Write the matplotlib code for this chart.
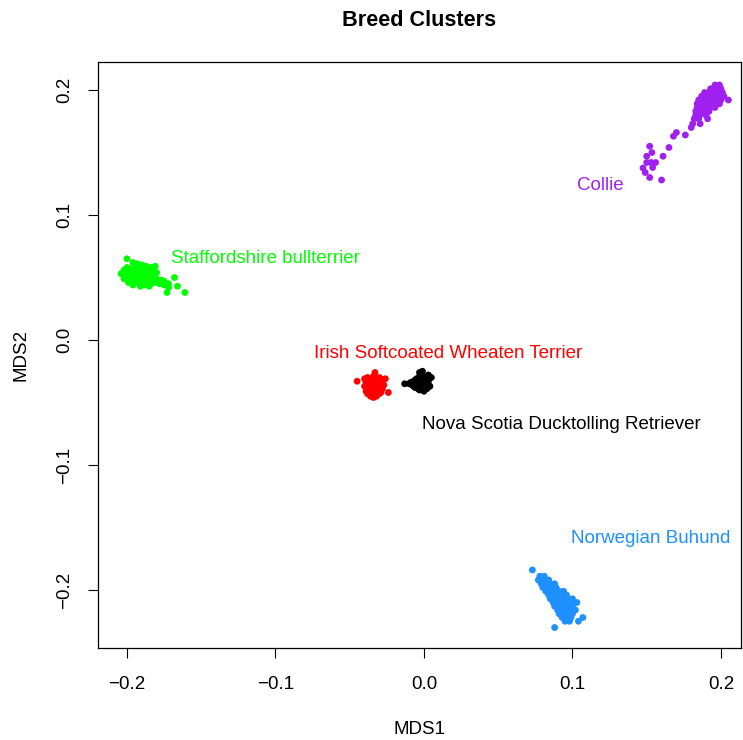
import matplotlib
matplotlib.use("Agg")
import matplotlib.pyplot as plt

plt.rcParams['font.family'] = ['Liberation Sans', 'DejaVu Sans']

# MDS coordinates per breed
staff_x = [-0.200, -0.196, -0.193, -0.190, -0.187, -0.184, -0.181,
           -0.202, -0.200, -0.198, -0.195, -0.192, -0.189, -0.186, -0.183, -0.180,
           -0.204, -0.201, -0.199, -0.197, -0.194, -0.191, -0.188, -0.185, -0.182,
           -0.202, -0.200, -0.197, -0.195, -0.192, -0.189, -0.186, -0.183, -0.180, -0.177,
           -0.199, -0.196, -0.193, -0.190, -0.187, -0.184, -0.181, -0.178, -0.175, -0.172,
           -0.196, -0.191, -0.188, -0.185,
           -0.168, -0.172, -0.166, -0.161, -0.173, -0.175]
staff_y = [0.065, 0.062, 0.061, 0.060, 0.059, 0.058, 0.059,
           0.056, 0.058, 0.057, 0.058, 0.057, 0.056, 0.055, 0.056, 0.054,
           0.053, 0.052, 0.054, 0.053, 0.055, 0.053, 0.052, 0.053, 0.051,
           0.049, 0.050, 0.049, 0.051, 0.050, 0.049, 0.050, 0.048, 0.049, 0.048,
           0.046, 0.047, 0.046, 0.047, 0.046, 0.045, 0.046, 0.045, 0.044, 0.045,
           0.044, 0.043, 0.044, 0.043,
           0.050, 0.042, 0.043, 0.038, 0.038, 0.047]

irish_x = [-0.045, -0.033, -0.040, -0.038, -0.036, -0.034, -0.032, -0.030, -0.028, -0.026,
           -0.039, -0.037, -0.035, -0.033, -0.031, -0.029, -0.027,
           -0.040, -0.038, -0.036, -0.034, -0.032, -0.030, -0.028,
           -0.039, -0.037, -0.035, -0.033, -0.031, -0.029,
           -0.038, -0.036, -0.034, -0.032, -0.030, -0.024,
           -0.036, -0.034, -0.032]
irish_y = [-0.033, -0.026, -0.031, -0.030, -0.032, -0.029, -0.031, -0.030, -0.032, -0.031,
           -0.034, -0.035, -0.033, -0.034, -0.035, -0.034, -0.036,
           -0.037, -0.038, -0.037, -0.039, -0.037, -0.038, -0.039,
           -0.041, -0.040, -0.042, -0.041, -0.040, -0.042,
           -0.043, -0.044, -0.043, -0.044, -0.043, -0.042,
           -0.045, -0.046, -0.045]

nova_x = [-0.013, -0.009, -0.007, -0.005, -0.003, -0.001, 0.001, 0.003,
          -0.008, -0.006, -0.004, -0.002, 0.000, 0.002, 0.005,
          -0.010, -0.007, -0.005, -0.003, -0.001, 0.001, 0.003,
          -0.006, -0.004, -0.002, 0.000, 0.002, 0.004,
          -0.003, -0.001, 0.003, -0.003, 0.000]
nova_y = [-0.035, -0.034, -0.033, -0.031, -0.029, -0.028, -0.030, -0.028,
          -0.036, -0.032, -0.034, -0.032, -0.031, -0.033, -0.030,
          -0.035, -0.037, -0.036, -0.035, -0.034, -0.035, -0.036,
          -0.038, -0.039, -0.037, -0.038, -0.039, -0.037,
          -0.026, -0.025, -0.033, -0.040, -0.041]

buhund_x = [0.073,
            0.078, 0.081,
            0.077, 0.080, 0.084,
            0.079, 0.082, 0.085, 0.088,
            0.080, 0.083, 0.086, 0.089,
            0.082, 0.085, 0.088, 0.091, 0.094,
            0.084, 0.087, 0.090, 0.093, 0.096,
            0.085, 0.088, 0.091, 0.094, 0.097, 0.100,
            0.087, 0.090, 0.093, 0.096, 0.099, 0.103,
            0.088, 0.091, 0.094, 0.097, 0.100,
            0.090, 0.093, 0.096, 0.099, 0.102,
            0.091, 0.094, 0.097, 0.100,
            0.093, 0.096, 0.099, 0.107,
            0.095, 0.098, 0.104,
            0.088]
buhund_y = [-0.184,
            -0.189, -0.189,
            -0.192, -0.192, -0.192,
            -0.195, -0.195, -0.195, -0.195,
            -0.198, -0.198, -0.198, -0.198,
            -0.201, -0.201, -0.201, -0.201, -0.201,
            -0.204, -0.204, -0.204, -0.204, -0.204,
            -0.207, -0.207, -0.207, -0.207, -0.207, -0.207,
            -0.210, -0.210, -0.210, -0.210, -0.210, -0.210,
            -0.213, -0.213, -0.213, -0.213, -0.213,
            -0.216, -0.216, -0.216, -0.216, -0.216,
            -0.219, -0.219, -0.219, -0.219,
            -0.222, -0.222, -0.222, -0.222,
            -0.225, -0.225, -0.225,
            -0.230]

collie_x = [0.196, 0.199,
            0.193, 0.196, 0.200,
            0.189, 0.192, 0.195, 0.198, 0.201,
            0.187, 0.190, 0.193, 0.196, 0.199, 0.202,
            0.185, 0.188, 0.191, 0.194, 0.197, 0.200, 0.205,
            0.184, 0.187, 0.190, 0.193, 0.196, 0.199,
            0.184, 0.187, 0.190, 0.193, 0.196,
            0.183, 0.186, 0.189, 0.192,
            0.183, 0.186, 0.190,
            0.182, 0.185, 0.191,
            0.181, 0.186,
            0.180,
            0.170, 0.176, 0.168, 0.165, 0.161, 0.1535, 0.150, 0.152,
            0.150, 0.153, 0.156, 0.154, 0.1475, 0.149, 0.152, 0.160]
collie_y = [0.204, 0.204,
            0.201, 0.201, 0.201,
            0.198, 0.198, 0.198, 0.198, 0.198,
            0.195, 0.195, 0.195, 0.195, 0.195, 0.195,
            0.192, 0.192, 0.192, 0.192, 0.192, 0.192, 0.192,
            0.189, 0.189, 0.189, 0.189, 0.189, 0.189,
            0.186, 0.186, 0.186, 0.186, 0.186,
            0.183, 0.183, 0.183, 0.183,
            0.180, 0.180, 0.180,
            0.177, 0.177, 0.177,
            0.173, 0.173,
            0.170,
            0.166, 0.164, 0.163, 0.154, 0.147, 0.150, 0.147, 0.155,
            0.142, 0.142, 0.142, 0.138, 0.1376, 0.134, 0.130, 0.128]

breeds = ["Staffordshire bullterrier", "Irish Softcoated Wheaten Terrier",
          "Nova Scotia Ducktolling Retriever", "Norwegian Buhund", "Collie"]
colors = ["#00FF00", "#FF0000", "#000000", "#1E90FF", "#A020F0"]
label_x = [-0.1065, 0.0165, 0.0926, 0.1529, 0.1185]
label_y = [0.0655, -0.0104, -0.0672, -0.1590, 0.1240]

series = [(staff_x, staff_y), (irish_x, irish_y), (nova_x, nova_y),
          (buhund_x, buhund_y), (collie_x, collie_y)]

fig = plt.figure(figsize=(7.43, 7.40), dpi=100)
ax = fig.add_axes([98 / 743, 1 - 648 / 740, (741 - 98) / 743, (648 - 62) / 740])

for (xs, ys), c in zip(series, colors):
    ax.scatter(xs, ys, s=24, color=c, edgecolors='none', zorder=3)

for name, c, lx, ly in zip(breeds, colors, label_x, label_y):
    ax.text(lx, ly, name, color=c, fontsize=13.5, ha='center', va='center')

ax.set_xlim(-0.2195, 0.2135)
ax.set_ylim(-0.2464, 0.2224)
ax.set_xticks([-0.2, -0.1, 0.0, 0.1, 0.2])
ax.set_xticklabels(["\u22120.2", "\u22120.1", "0.0", "0.1", "0.2"])
ax.set_yticks([-0.2, -0.1, 0.0, 0.1, 0.2])
ax.set_yticklabels(["\u22120.2", "\u22120.1", "0.0", "0.1", "0.2"],
                   rotation=90, va='center')
ax.tick_params(axis='both', direction='out', length=7, width=0.8,
               labelsize=13.5, pad=13)
ax.tick_params(axis='y', pad=11)
for sp in ax.spines.values():
    sp.set_linewidth(0.9)

ax.set_xlabel("MDS1", fontsize=13.5, labelpad=20)
ax.set_ylabel("MDS2", fontsize=13.5, labelpad=19)
ax.set_title("Breed Clusters", fontsize=15.6, fontweight='bold', pad=26)

fig.savefig("out.png", dpi=100)
